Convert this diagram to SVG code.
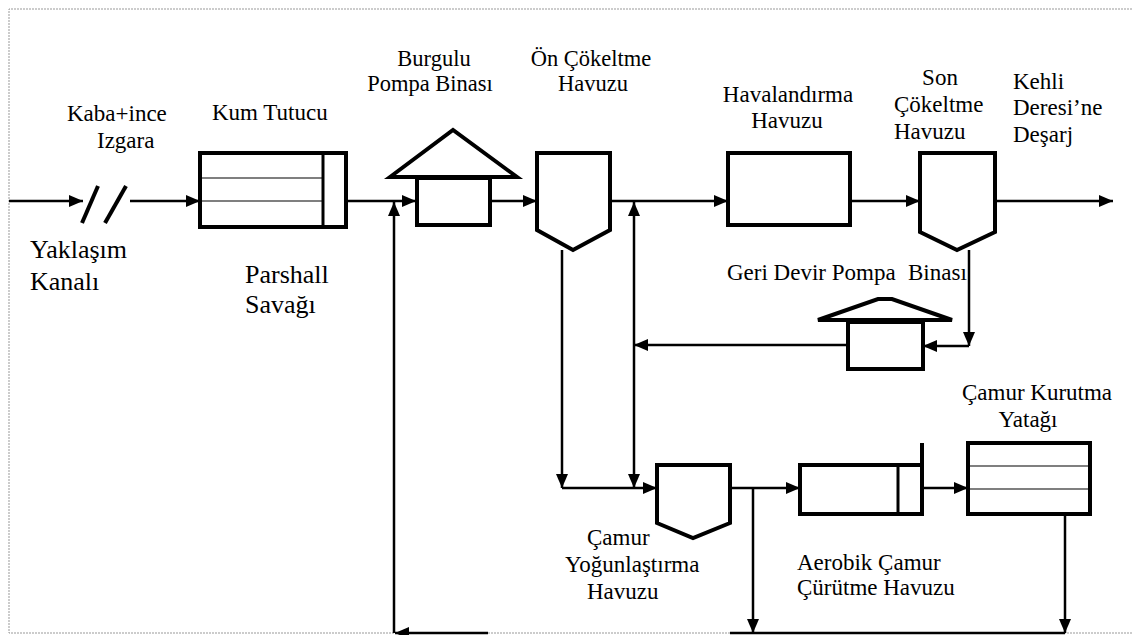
<svg xmlns="http://www.w3.org/2000/svg" width="1133" height="635" viewBox="0 0 1133 635">
<defs>
<marker id="ah" markerUnits="userSpaceOnUse" markerWidth="15" markerHeight="13" refX="14" refY="6" orient="auto">
<path d="M0,0 L14,6 L0,12 z" fill="#000"/>
</marker>
<style>
.box{fill:#fff;stroke:#000;stroke-width:4}
.thin{stroke:#000;stroke-width:1.2;fill:none}
.c{stroke:#000;stroke-width:2.5;fill:none}
.ca{stroke:#000;stroke-width:2.5;fill:none;marker-end:url(#ah)}
</style>
</defs>
<rect x="0" y="0" width="1133" height="635" fill="#fff"/>
<path d="M1135,9 H9 V633 H1135" fill="none" stroke="#999" stroke-width="1" stroke-dasharray="2,1"/>

<g id="connectors">
<line class="ca" x1="9" y1="201" x2="83" y2="201"/>
<line class="ca" x1="130" y1="201" x2="200" y2="201"/>
<line class="ca" x1="347" y1="201" x2="416" y2="201"/>
<line class="ca" x1="490" y1="201" x2="537" y2="201"/>
<line class="ca" x1="610" y1="201" x2="728" y2="201"/>
<line class="ca" x1="850" y1="201" x2="920" y2="201"/>
<line class="ca" x1="995" y1="201" x2="1113" y2="201"/>
<line class="ca" x1="394" y1="633" x2="394" y2="202"/>
<line class="ca" x1="634" y1="345" x2="634" y2="202"/>
<line class="ca" x1="634" y1="345" x2="634" y2="488"/>
<line class="ca" x1="848" y1="345" x2="634" y2="345"/>
<line class="ca" x1="969" y1="250" x2="969" y2="346"/>
<line class="ca" x1="969" y1="346" x2="923" y2="346"/>
<line class="ca" x1="562" y1="250" x2="562" y2="488"/>
<line class="ca" x1="562" y1="488" x2="657" y2="488"/>
<line class="c" x1="730" y1="488" x2="760" y2="488"/>
<line class="ca" x1="760" y1="488" x2="800" y2="488"/>
<line class="ca" x1="753" y1="488" x2="753" y2="633"/>
<line class="ca" x1="922" y1="488" x2="968" y2="488"/>
<line class="ca" x1="1065" y1="514" x2="1065" y2="633"/>
<line class="c" x1="730" y1="633" x2="1065" y2="633"/>
<line class="ca" x1="488" y1="633" x2="395" y2="633"/>
</g>

<g font-family="Liberation Serif, Times New Roman, serif" font-size="23" fill="#000">
<g id="izgara">
<line x1="82" y1="223" x2="98" y2="186" stroke="#000" stroke-width="4"/>
<line x1="105" y1="223" x2="126" y2="186" stroke="#000" stroke-width="4"/>
<text x="67" y="121">Kaba+ince</text>
<text x="97" y="148">Izgara</text>
</g>

<g id="yaklasim" font-size="26">
<text x="30" y="258">Yaklaşım</text>
<text x="30" y="290">Kanalı</text>
</g>

<g id="kum-tutucu">
<rect class="box" x="200" y="153" width="146" height="74"/>
<line class="thin" x1="200" y1="178" x2="323" y2="178"/>
<line class="thin" x1="200" y1="201" x2="323" y2="201"/>
<line x1="323" y1="153" x2="323" y2="227" stroke="#000" stroke-width="3"/>
<text x="212" y="120">Kum Tutucu</text>
</g>

<g id="parshall" font-size="26">
<text x="245" y="283">Parshall</text>
<text x="245" y="313">Savağı</text>
</g>

<g id="burgulu">
<polygon class="box" points="390,177 453,130 517,177"/>
<rect class="box" x="417" y="178" width="73" height="47"/>
<text x="434" y="66" text-anchor="middle" font-size="22.5">Burgulu</text>
<text x="430" y="91" text-anchor="middle" font-size="22.5">Pompa Binası</text>
</g>

<g id="on-cokeltme">
<path class="box" d="M537,153 H610 V230 L573,250 L537,230 Z"/>
<text x="591" y="66" text-anchor="middle" font-size="22.5">Ön Çökeltme</text>
<text x="593" y="91" text-anchor="middle" font-size="22.5">Havuzu</text>
</g>

<g id="havalandirma">
<rect class="box" x="728" y="153" width="122" height="72"/>
<text x="788" y="102" text-anchor="middle">Havalandırma</text>
<text x="787" y="128" text-anchor="middle">Havuzu</text>
</g>

<g id="son-cokeltme">
<path class="box" d="M920,153 H995 V232 L957,250 L920,232 Z"/>
<text x="940" y="85" text-anchor="middle">Son</text>
<text x="894" y="112">Çökeltme</text>
<text x="894" y="139">Havuzu</text>
</g>

<g id="desarj">
<text x="1013" y="89">Kehli</text>
<text x="1013" y="115">Deresi’ne</text>
<text x="1013" y="142">Deşarj</text>
</g>

<g id="geri-devir">
<polygon class="box" points="818,320 878,299 892,299 952,320"/>
<rect class="box" x="848" y="322" width="75" height="47"/>
<text y="280"><tspan x="727">Geri Devir Pompa</tspan><tspan x="908">Binası</tspan></text>
</g>

<g id="yogunlastirma">
<path class="box" d="M657,465 H730 V523 L693,538 L657,523 Z"/>
<text x="587" y="545">Çamur</text>
<text x="565" y="572">Yoğunlaştırma</text>
<text x="587" y="599">Havuzu</text>
</g>

<g id="aerobik">
<rect class="box" x="800" y="465" width="122" height="49"/>
<line x1="898" y1="465" x2="898" y2="514" stroke="#000" stroke-width="3"/>
<line x1="922" y1="443" x2="922" y2="466" stroke="#000" stroke-width="4"/>
<text x="797" y="570">Aerobik Çamur</text>
<text x="797" y="595">Çürütme Havuzu</text>
</g>

<g id="kurutma">
<rect class="box" x="968" y="443" width="122" height="71"/>
<line class="thin" x1="968" y1="466" x2="1090" y2="466"/>
<line class="thin" x1="968" y1="489" x2="1090" y2="489"/>
<text x="1037" y="400" text-anchor="middle">Çamur Kurutma</text>
<text x="1028" y="427" text-anchor="middle">Yatağı</text>
</g>
</g>
</svg>
